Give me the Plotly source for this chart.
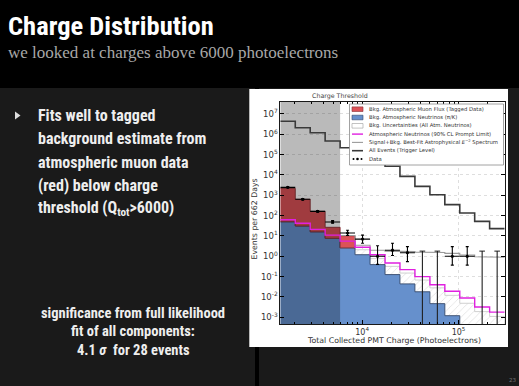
import math
import plotly.graph_objects as go

W, H = 519, 386

# ---------------- data ----------------
edges = [1420, 2030, 2900, 4140, 5920, 8450, 12100, 17300, 24700, 35300,
         50500, 72100, 103000, 147000, 210000, 301000]
threshold_index = 4

conv_nu = [50, 31, 16, 7.7, 2.6, 1.2, 0.39, 0.126, 0.044, 0.018, 0.0047, 0.0012, 0, 0, 0]
muon_tagged = [2150, 604, 147, 19, 7.7, 0, 0, 0, 0, 0, 0, 0, 0, 0, 0]
bkg_unc_upper = [0, 0, 0, 0, 4.5, 2.1, 0.77, 0.32, 0.15, 0.068, 0.028, 0.012, 0.0049, 0.0019, 0.0011]
prompt_limit = [63, 42, 21, 11, 5.6, 2.8, 1.2, 0.47, 0.22, 0.10, 0.04, 0.019, 0.0089, 0.0032, 0.0018]
signal_bestfit = [None, None, None, None, 10.5, 3.5, 2.0, 1.8, 1.7, 1.6, 1.55, 1.4, 1.15, 0.95, 0.9]
all_events = [4.4e6, 2.1e6, 1.2e6, 4.7e5, 2.2e5, 1.0e5, 5.0e4, 2.7e4, 8.5e3, 2.75e3,
              1.07e3, 350, 135, 52, 23]
data_counts = [2470, 635, 163, 49, 14, 7, 1, 2, 1.5, 0, 0, 1, 1, 0, 0]
data_hi = [2600, 690, 180, 57, 19, 11, 3.3, 4.4, 3.0, 1.8, 1.8, 3.0, 3.0, 1.8, 1.8]
data_lo = [2350, 585, 148, 42, 10.5, 4.4, 0.4, 1.1, 0.55, 0, 0, 0.37, 0.37, 0, 0]

y_ticks = [1e-3, 1e-2, 1e-1, 1e0, 1e1, 1e2, 1e3, 1e4, 1e5, 1e6, 1e7]
y_ticktext = ["10<sup>-3</sup>", "10<sup>-2</sup>", "10<sup>-1</sup>", "10<sup>0</sup>",
              "10<sup>1</sup>", "10<sup>2</sup>", "10<sup>3</sup>", "10<sup>4</sup>",
              "10<sup>5</sup>", "10<sup>6</sup>", "10<sup>7</sup>"]
x_ticks = [1e4, 1e5]
x_ticktext = ["10<sup>4</sup>", "10<sup>5</sup>"]

legend_labels = [
    "Bkg. Atmospheric Muon Flux (Tagged Data)",
    "Bkg. Atmospheric Neutrinos (π/K)",
    "Bkg. Uncertainties (All Atm. Neutrinos)",
    "Atmospheric Neutrinos (90% CL Prompt Limit)",
    "Signal+Bkg. Best-Fit Astrophysical <i>E</i><sup>−2</sup> Spectrum",
    "All Events (Trigger Level)",
    "Data",
]

FLOOR = 1e-6
CEIL = 1e9

RED = "#dc5257"
RED_EDGE = "#8a3035"
BLUE = "#6690cc"
BLUE_EDGE = "#34476a"
MAGENTA = "#e020e0"
DARK = "#3a3a3a"
SIG = "#9a9a9a"


def step_xy(vals, start=0, stop=None):
    stop = len(vals) if stop is None else stop
    xs, ys = [], []
    for i in range(start, stop):
        v = vals[i]
        v = FLOOR if (v is None or v <= 0) else v
        xs += [edges[i], edges[i + 1]]
        ys += [v, v]
    return xs, ys


def band_polygon(lower, upper, start=0, stop=None):
    xu, yu = step_xy(upper, start, stop)
    xl, yl = step_xy(lower, start, stop)
    return xu + xl[::-1], yu + yl[::-1]


n = len(conv_nu)
stack_top = [conv_nu[i] + muon_tagged[i] for i in range(n)]
zeros = [FLOOR] * n
centers = [math.sqrt(edges[i] * edges[i + 1]) for i in range(n)]

fig = go.Figure()

# uncertainty hatch
hx, hy = band_polygon(zeros, bkg_unc_upper, threshold_index, n)
fig.add_trace(go.Scatter(x=hx, y=hy, fill="toself", mode="lines",
                         line=dict(color="#c4c4c4", width=0.8),
                         fillcolor="white",
                         fillpattern=dict(shape="/", fgcolor="#bcbcbc", bgcolor="white",
                                          size=5, solidity=0.14),
                         hoverinfo="skip", showlegend=False))

# conventional neutrinos (blue)
bx, by = band_polygon(zeros, conv_nu, 0, 12)
fig.add_trace(go.Scatter(x=bx, y=by, fill="toself", mode="lines",
                         line=dict(color=BLUE_EDGE, width=0.9), fillcolor=BLUE,
                         hoverinfo="skip", showlegend=False))

# muon tagged (red), stacked on blue
rx, ry = band_polygon(conv_nu, stack_top, 0, threshold_index + 1)
fig.add_trace(go.Scatter(x=rx, y=ry, fill="toself", mode="lines",
                         line=dict(color=RED_EDGE, width=0.9), fillcolor=RED,
                         hoverinfo="skip", showlegend=False))

# charge-threshold shading
fig.add_trace(go.Scatter(x=[edges[0], edges[threshold_index], edges[threshold_index], edges[0]],
                         y=[FLOOR, FLOOR, CEIL, CEIL], fill="toself", mode="lines",
                         line=dict(width=0), fillcolor="rgba(0,0,0,0.27)",
                         hoverinfo="skip", showlegend=False))

# signal + bkg best fit
sx, sy = step_xy(signal_bestfit, threshold_index, n)
fig.add_trace(go.Scatter(x=sx, y=sy, mode="lines", line=dict(color=SIG, width=1.1),
                         hoverinfo="skip", showlegend=False))

# prompt limit (magenta)
mx, my = step_xy(prompt_limit)
fig.add_trace(go.Scatter(x=mx, y=my, mode="lines", line=dict(color=MAGENTA, width=1.4),
                         hoverinfo="skip", showlegend=False))

# all events
ax_, ay_ = step_xy(all_events)
fig.add_trace(go.Scatter(x=ax_, y=ay_, mode="lines", line=dict(color=DARK, width=1.6),
                         hoverinfo="skip", showlegend=False))

# data with error bars
dx, dy, eup, edn, exl, exr = [], [], [], [], [], []
for i in range(n):
    if data_counts[i] > 0:
        dx.append(centers[i])
        dy.append(data_counts[i])
        eup.append(data_hi[i] - data_counts[i])
        edn.append(data_counts[i] - data_lo[i])
        exl.append(centers[i] - edges[i])
        exr.append(edges[i + 1] - centers[i])
fig.add_trace(go.Scatter(x=dx, y=dy, mode="markers",
                         marker=dict(color="black", size=3.2),
                         error_y=dict(type="data", symmetric=False, array=eup, arrayminus=edn,
                                      color="black", thickness=1.1, width=1.5),
                         error_x=dict(type="data", symmetric=False, array=exr, arrayminus=exl,
                                      color="black", thickness=1.1, width=0),
                         hoverinfo="skip", showlegend=False))

# zero-count bins: upper limits
zx, zy = [], []
for i in range(n):
    if data_counts[i] == 0:
        zx += [centers[i], centers[i], None]
        zy += [FLOOR, data_hi[i], None]
fig.add_trace(go.Scatter(x=zx, y=zy, mode="lines", line=dict(color="#202020", width=1.1),
                         hoverinfo="skip", showlegend=False))
fig.add_trace(go.Scatter(x=[centers[i] for i in range(n) if data_counts[i] == 0],
                         y=[data_hi[i] for i in range(n) if data_counts[i] == 0],
                         mode="markers", marker=dict(symbol="line-ew", size=4,
                                                      line=dict(color="#202020", width=1)),
                         hoverinfo="skip", showlegend=False))


def px(x):
    return x / W


def py(y):
    return 1 - y / H


shapes = []
annotations = []

# slide background pieces
shapes.append(dict(type="rect", xref="paper", yref="paper", x0=0, x1=1, y0=py(88), y1=1,
                   fillcolor="black", line=dict(width=0), layer="below"))
shapes.append(dict(type="rect", xref="paper", yref="paper", x0=px(255), x1=px(259),
                   y0=0, y1=py(88), fillcolor="black", line=dict(width=0), layer="below"))
shapes.append(dict(type="rect", xref="paper", yref="paper", x0=px(249.3), x1=px(508),
                   y0=py(347), y1=py(89), fillcolor="white", line=dict(width=0), layer="below"))

# manual legend
lx0, lx1, ly0, ly1 = 349.5, 503.5, 104, 165
shapes.append(dict(type="rect", xref="paper", yref="paper", x0=px(lx0), x1=px(lx1),
                   y0=py(ly1), y1=py(ly0), fillcolor="white",
                   line=dict(color="#8a8a8a", width=0.8)))
rows = [109.2, 117.5, 125.8, 134.1, 142.4, 150.7, 159.0]
sym_x0, sym_x1 = 352, 363
patch_styles = [(RED, RED_EDGE), (BLUE, BLUE_EDGE), ("white", "#9a9a9a")]
for k in range(3):
    fcol, lcol = patch_styles[k]
    shapes.append(dict(type="rect", xref="paper", yref="paper", x0=px(sym_x0), x1=px(sym_x1),
                       y0=py(rows[k] + 2.3), y1=py(rows[k] - 2.3), fillcolor=fcol,
                       line=dict(color=lcol, width=0.6)))
line_styles = [(MAGENTA, 1.4), (SIG, 1.1), (DARK, 1.6)]
for k in range(3):
    col, wd = line_styles[k]
    shapes.append(dict(type="line", xref="paper", yref="paper", x0=px(sym_x0), x1=px(sym_x1),
                       y0=py(rows[3 + k]), y1=py(rows[3 + k]), line=dict(color=col, width=wd)))
for k, xx in enumerate([353.5, 357.5, 361.5]):
    r = 1.0 if k != 1 else 1.3
    shapes.append(dict(type="circle", xref="paper", yref="paper", x0=px(xx - r), x1=px(xx + r),
                       y0=py(rows[6] + r), y1=py(rows[6] - r), fillcolor="black",
                       line=dict(width=0)))
for k, lab in enumerate(legend_labels):
    annotations.append(dict(text=lab, xref="paper", yref="paper", x=px(366.5), y=py(rows[k]),
                            xanchor="left", yanchor="middle", showarrow=False,
                            font=dict(family="DejaVu Sans", size=5.3, color="#333333")))

# chart labels
annotations.append(dict(text="Charge Threshold", xref="paper", yref="paper", x=px(340), y=py(95.5),
                        xanchor="center", yanchor="middle", showarrow=False,
                        font=dict(family="DejaVu Sans", size=6.3, color="#444444")))
annotations.append(dict(text="Events per 662 Days", xref="paper", yref="paper", x=px(253.5),
                        y=py(219), xanchor="center", yanchor="middle", textangle=-90,
                        showarrow=False, font=dict(family="DejaVu Sans", size=7.8, color="#333333")))
annotations.append(dict(text="Total Collected PMT Charge (Photoelectrons)", xref="paper", yref="paper",
                        x=px(393.5), y=py(340), xanchor="center", yanchor="middle", showarrow=False,
                        font=dict(family="DejaVu Sans", size=7.8, color="#333333")))

# slide text
NARROW = "Liberation Sans Narrow, Arial Narrow, Roboto Condensed, Liberation Sans"
annotations.append(dict(text="<b>Charge Distribution</b>", xref="paper", yref="paper", x=px(6),
                        y=py(25), xanchor="left", yanchor="middle", showarrow=False,
                        font=dict(family=NARROW, size=26.5, color="white")))
annotations.append(dict(text="we looked at charges above 6000 photoelectrons", xref="paper",
                        yref="paper", x=px(6), y=py(52), xanchor="left", yanchor="middle",
                        showarrow=False,
                        font=dict(family="Liberation Serif", size=17, color="#a8a8a8")))
bullet_lines = ["Fits well to tagged", "background estimate from", "atmospheric muon data",
                "(red) below charge", "threshold (Q<sub>tot</sub>>6000)"]
for k, t in enumerate(bullet_lines):
    annotations.append(dict(text="<b>" + t + "</b>", xref="paper", yref="paper", x=px(36),
                            y=py(115.5 + 23.3 * k), xanchor="left", yanchor="middle", showarrow=False,
                            font=dict(family=NARROW, size=16, color="#eeeeee")))
shapes.append(dict(type="path", xref="paper", yref="paper",
                   path="M {} {} L {} {} L {} {} Z".format(px(15), py(111.5), px(20.5), py(115.5),
                                                           px(15), py(119.5)),
                   fillcolor="#dddddd", line=dict(width=0)))
sig_lines = ["significance from full likelihood", "fit of all components:",
             "4.1 <i>σ</i>  for 28 events"]
for k, t in enumerate(sig_lines):
    annotations.append(dict(text="<b>" + t + "</b>", xref="paper", yref="paper", x=px(133),
                            y=py(313 + 18.5 * k), xanchor="center", yanchor="middle",
                            showarrow=False, font=dict(family=NARROW, size=14.5, color="#eeeeee")))
annotations.append(dict(text="23", xref="paper", yref="paper", x=px(512), y=py(380),
                        xanchor="center", yanchor="middle", showarrow=False,
                        font=dict(family="DejaVu Sans", size=5.5, color="#777777")))

x_minor = [k * 10 ** d for d in (3, 4, 5) for k in range(2, 10) if edges[0] < k * 10 ** d < edges[-1]]

fig.update_layout(
    width=W, height=H,
    margin=dict(l=0, r=0, t=0, b=0),
    paper_bgcolor="#1a1a1a",
    plot_bgcolor="white",
    showlegend=False,
    shapes=shapes,
    annotations=annotations,
    xaxis=dict(type="log", domain=[280.3 / W, 504.7 / W],
               range=[math.log10(edges[0]), math.log10(edges[-1])],
               tickvals=x_ticks, ticktext=x_ticktext, ticks="inside", ticklen=4,
               tickcolor="black", tickfont=dict(family="DejaVu Sans", size=8, color="#333333"),
               showline=True, linecolor="black", linewidth=0.9, mirror="ticks",
               showgrid=True, gridcolor="#c8c8c8", griddash="dot", gridwidth=0.6,
               zeroline=False, automargin=False,
               minor=dict(tickvals=x_minor, ticks="inside", ticklen=2, tickcolor="black",
                          showgrid=False)),
    yaxis=dict(type="log", domain=[1 - 324 / H, 1 - 102 / H], range=[-3.33, 7.59],
               tickvals=y_ticks, ticktext=y_ticktext, ticks="inside", ticklen=4,
               tickcolor="black", tickfont=dict(family="DejaVu Sans", size=8.5, color="#333333"),
               showline=True, linecolor="black", linewidth=0.9, mirror="ticks",
               showgrid=True, gridcolor="#c8c8c8", griddash="dot", gridwidth=0.6,
               zeroline=False, automargin=False),
)

fig.write_html("out.html", config={"displayModeBar": False, "staticPlot": True},
               post_script="document.body.style.margin='0';document.body.style.overflow='hidden';")
